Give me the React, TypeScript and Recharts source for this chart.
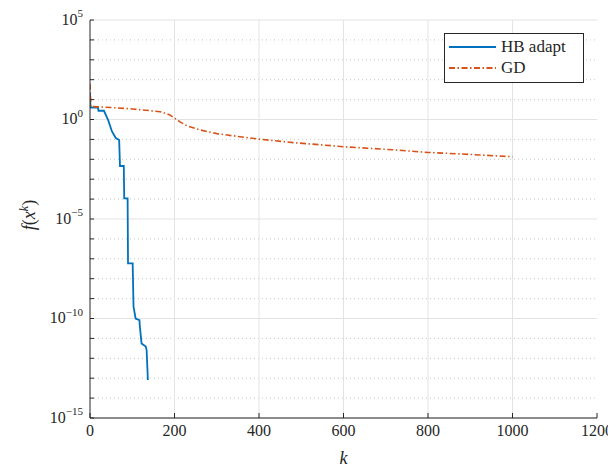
import React from "react";
import { LineChart, Line, XAxis, YAxis, CartesianGrid } from "recharts";

// ---- data ----
const hbK = [0, 1, 19, 20, 33, 43, 52, 61, 69, 71, 80, 81, 89, 90, 101, 103, 108, 117, 118, 122, 132, 134, 137];
const hbF = [20, 4.0, 4.0, 2.75, 2.75, 0.93, 0.25, 0.117, 0.093, 4.6e-3, 4.6e-3, 1.1e-4, 1.1e-4, 5.9e-8, 5.9e-8, 3.9e-10, 1.0e-10, 8.3e-11, 4.0e-11, 5.6e-12, 3.9e-12, 2.6e-12, 8.1e-14];

const gdK = [0, 2, 50, 100, 140, 166, 180, 189, 201, 213, 229, 260, 300, 324, 402, 481, 600, 718, 797, 876, 1000];
const gdF = [63, 4.5, 4.0, 3.4, 2.8, 2.45, 2.0, 1.7, 1.15, 0.76, 0.49, 0.3, 0.195, 0.166, 0.102, 0.069, 0.043, 0.03, 0.0224, 0.0186, 0.0135];

const xTicks = [0, 200, 400, 600, 800, 1000, 1200];
const xInnerGrid = [200, 400, 600, 800, 1000];
const yMajorTicks = [1e-15, 1e-10, 1e-5, 1e0, 1e5];
const yMajorLabels = ["\u221215", "\u221210", "\u22125", "0", "5"];
const yDecades = [1e-15, 1e-14, 1e-13, 1e-12, 1e-11, 1e-10, 1e-9, 1e-8, 1e-7, 1e-6, 1e-5, 1e-4, 1e-3, 1e-2, 1e-1, 1e0, 1e1, 1e2, 1e3, 1e4, 1e5];
const yMinorGrid = [1e-14, 1e-13, 1e-12, 1e-11, 1e-9, 1e-8, 1e-7, 1e-6, 1e-4, 1e-3, 1e-2, 1e-1, 1e1, 1e2, 1e3, 1e4];

const seriesNames = ["HB adapt", "GD"];
const seriesColors = ["#0072BD", "#D95319"];

const hbData = hbK.map((k, i) => ({ k, f: hbF[i] }));
const gdData = gdK.map((k, i) => ({ k, f: gdF[i] }));

const FONT = "'Times New Roman', Tinos, 'DejaVu Serif', serif";
const INK = "#262626";
const W = 608;
const H = 462;

function YTickLabel(props: any) {
  const { x, y, payload } = props;
  const i = yMajorTicks.indexOf(payload.value);
  if (i < 0) return <g />;
  return (
    <text x={x} y={y + 4.5} textAnchor="end" fill={INK} style={{ fontFamily: FONT }} fontSize={16}>
      10
      <tspan dy={-7.5} fontSize={11}>
        {yMajorLabels[i]}
      </tspan>
    </text>
  );
}

function XTickLabel(props: any) {
  const { x, y, payload } = props;
  return (
    <text x={x} y={y + 13} textAnchor="middle" fill={INK} style={{ fontFamily: FONT }} fontSize={16}>
      {payload.value}
    </text>
  );
}

function XLabel(props: any) {
  const vb = props.viewBox || {};
  const cx = vb.x + vb.width / 2;
  return (
    <text x={cx} y={456} textAnchor="middle" fill={INK} style={{ fontFamily: FONT }} fontSize={18} fontStyle="italic">
      k
    </text>
  );
}

function YLabel() {
  const cx = 27;
  const cy = 207;
  return (
    <text
      x={cx}
      y={cy}
      transform={`rotate(-90, ${cx}, ${cy})`}
      textAnchor="middle"
      fill={INK}
      style={{ fontFamily: FONT }}
      fontSize={18}
    >
      <tspan fontStyle="italic">f</tspan>
      <tspan>(</tspan>
      <tspan fontStyle="italic">x</tspan>
      <tspan fontStyle="italic" fontSize={12} dy={-7}>k</tspan>
      <tspan dy={7}>)</tspan>
    </text>
  );
}

function LegendBox() {
  return (
    <div
      style={{
        position: "absolute",
        left: 436,
        top: 25,
        width: 140,
        height: 50,
        border: "1px solid " + INK,
        background: "#fff",
        fontFamily: FONT,
        fontSize: 17,
        color: INK,
        boxSizing: "border-box",
      }}
    >
      {seriesNames.map((name, i) => (
        <div
          key={name}
          style={{ position: "absolute", left: 0, top: 3 + i * 21, height: 20, display: "flex", alignItems: "center" }}
        >
          <svg width={56} height={20} style={{ display: "block" }}>
            <line
              x1={4}
              x2={51}
              y1={10}
              y2={10}
              stroke={seriesColors[i]}
              strokeWidth={1.8}
              strokeDasharray={i === 1 ? "6 2.5 1.5 2.5" : undefined}
            />
          </svg>
          <span style={{ lineHeight: "20px", whiteSpace: "nowrap" }}>{name}</span>
        </div>
      ))}
    </div>
  );
}

export default function App() {
  return (
    <div style={{ position: "relative", width: W, height: H }}>
      <LineChart width={W} height={H} margin={{ top: 12, right: 19, bottom: 0, left: 0 }}>
        <CartesianGrid
          xAxisId="b"
          yAxisId="l"
          horizontal={true}
          vertical={false}
          horizontalValues={yMinorGrid}
          stroke="#c8c8c8"
          strokeDasharray="1 3"
        />
        <CartesianGrid
          xAxisId="b"
          yAxisId="l"
          horizontal={true}
          vertical={true}
          horizontalValues={yMajorTicks}
          verticalValues={xInnerGrid}
          stroke="#e3e3e3"
        />
        <XAxis
          xAxisId="b"
          dataKey="k"
          type="number"
          domain={[0, 1200]}
          ticks={xTicks}
          interval={0}
          height={52}
          allowDataOverflow
          stroke={INK}
          tickSize={-5}
          tickMargin={10}
          tick={<XTickLabel />}
          label={<XLabel />}
        />
        <XAxis
          xAxisId="t"
          orientation="top"
          dataKey="k"
          type="number"
          domain={[0, 1200]}
          ticks={xTicks}
          interval={0}
          height={0}
          allowDataOverflow
          stroke={INK}
          tickSize={-5}
          tick={false}
        />
        <YAxis
          yAxisId="l"
          dataKey="f"
          scale="log"
          type="number"
          domain={[1e-15, 1e5]}
          ticks={yDecades}
          interval={0}
          width={82}
          allowDataOverflow
          stroke={INK}
          tickSize={-4}
          tickMargin={11}
          tick={<YTickLabel />}
          label={<YLabel />}
        />
        <YAxis
          yAxisId="r"
          orientation="right"
          dataKey="f"
          scale="log"
          type="number"
          domain={[1e-15, 1e5]}
          ticks={yDecades}
          interval={0}
          width={0}
          allowDataOverflow
          stroke={INK}
          tickSize={-4}
          tick={false}
        />
        <Line
          xAxisId="b"
          yAxisId="l"
          data={hbData}
          dataKey="f"
          type="linear"
          stroke={seriesColors[0]}
          strokeWidth={1.8}
          dot={false}
          isAnimationActive={false}
        />
        <Line
          xAxisId="b"
          yAxisId="l"
          data={gdData}
          dataKey="f"
          type="linear"
          stroke={seriesColors[1]}
          strokeWidth={1.6}
          strokeDasharray="6 2.5 1.5 2.5"
          dot={false}
          isAnimationActive={false}
        />
      </LineChart>
      <LegendBox />
    </div>
  );
}
